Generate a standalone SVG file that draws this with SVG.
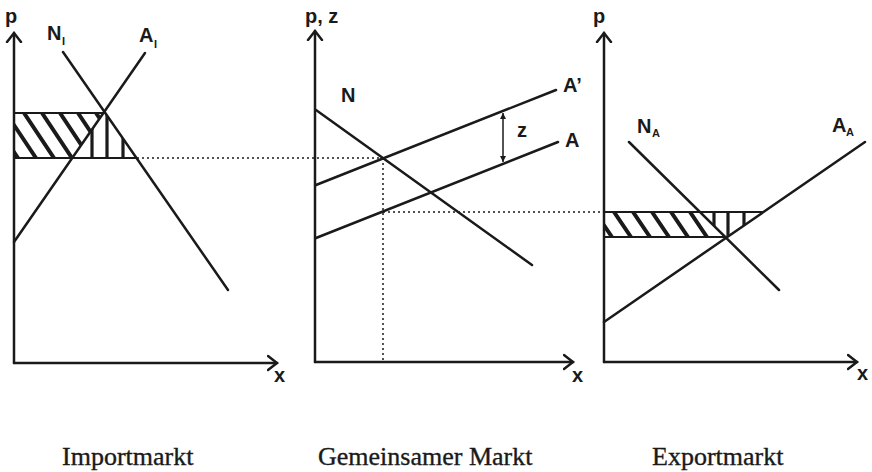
<svg xmlns="http://www.w3.org/2000/svg" width="872" height="472" viewBox="0 0 872 472">
<style>
.ax{stroke:#1a1a1a;stroke-width:2.5;fill:none;stroke-linecap:round}
.cv{stroke:#1a1a1a;stroke-width:2.5;fill:none;stroke-linecap:round}
.bd{stroke:#1a1a1a;stroke-width:1.8;fill:none}
.dot{stroke:#1a1a1a;stroke-width:1.5;fill:none;stroke-dasharray:2 3}
.hd{stroke:#1a1a1a;stroke-width:4;fill:none}
.hv{stroke:#1a1a1a;stroke-width:3.2;fill:none}
.lb{font-family:"Liberation Sans",Arial,sans-serif;font-size:20px;font-weight:bold;fill:#1a1a1a}
.sb{font-family:"Liberation Sans",Arial,sans-serif;font-size:11px;font-weight:bold;fill:#1a1a1a}
.tt{font-family:"Liberation Serif","Times New Roman",serif;font-size:26px;fill:#1a1a1a;stroke:#1a1a1a;stroke-width:0.35}
</style>
<defs>
<marker id="ah" markerUnits="userSpaceOnUse" markerWidth="20" markerHeight="20" refX="10" refY="10" orient="auto" viewBox="0 0 20 20">
<path d="M1,3 L10,10 L1,17" fill="none" stroke="#1a1a1a" stroke-width="2.5" stroke-linecap="round" stroke-linejoin="miter"/>
</marker>
<marker id="zh" markerUnits="userSpaceOnUse" markerWidth="8" markerHeight="8" refX="6" refY="4" orient="auto-start-reverse" viewBox="0 0 8 8">
<path d="M0,1 L6,4 L0,7 Z" fill="#1a1a1a"/>
</marker>
<clipPath id="cL1"><polygon points="14,113 103.4,113 72.2,158 14,158"/></clipPath>
<clipPath id="cL2"><polygon points="103.4,113 105.3,113 136.5,158 72.2,158"/></clipPath>
<clipPath id="cR1"><polygon points="604,212 700,212 725.3,237 604,237"/></clipPath>
<clipPath id="cR2"><polygon points="700,212 763.4,212 726,237"/></clipPath>
</defs>

<g id="import-market">
<g clip-path="url(#cL1)">
<path class="hd" d="M-12,113 L18,158 M6,113 L36,158 M24,113 L54,158 M42,113 L72,158 M60,113 L90,158 M78,113 L108,158 M96,113 L126,158"/>
</g>
<g clip-path="url(#cL2)">
<path class="hv" d="M92,110 V160 M107,110 V160 M123,110 V160"/>
</g>
<path class="bd" d="M14,113 H105 M14,158 H137"/>
<path class="cv" d="M63,52 L228,290"/>
<path class="cv" d="M14,242 L145,53"/>
<path class="ax" d="M14,363 V33" marker-end="url(#ah)"/>
<path class="ax" d="M14,363 H277" marker-end="url(#ah)"/>
<text class="lb" x="5" y="23">p</text>
<text class="lb" x="47" y="40">N</text><text class="sb" x="62" y="45">I</text>
<text class="lb" x="139" y="42">A</text><text class="sb" x="154" y="48">I</text>
<text class="lb" x="274" y="382">x</text>
<text class="tt" x="62" y="465">Importmarkt</text>
</g>

<g id="common-market">
<path class="cv" d="M316,110 L532,265"/>
<path class="cv" d="M316,185 L556,90"/>
<path class="cv" d="M316,238 L558,142"/>
<path class="ax" d="M315,362 V31" marker-end="url(#ah)"/>
<path class="ax" d="M315,362 H573" marker-end="url(#ah)"/>
<text class="lb" x="305" y="23">p, z</text>
<text class="lb" x="341" y="102">N</text>
<text class="lb" x="563" y="92">A’</text>
<text class="lb" x="565" y="147">A</text>
<text class="lb" x="517" y="137">z</text>
<text class="lb" x="572" y="382">x</text>
<text class="tt" x="318" y="465">Gemeinsamer Markt</text>
</g>

<g id="export-market">
<g clip-path="url(#cR1)">
<path class="hd" d="M595,212 L612,237 M614,212 L631,237 M633,212 L650,237 M652,212 L669,237 M671,212 L688,237 M690,212 L707,237 M709,212 L726,237"/>
</g>
<g clip-path="url(#cR2)">
<path class="hv" d="M714,210 V240 M728,210 V240 M744,210 V240"/>
</g>
<path class="bd" d="M604,212 H763 M604,237 H727"/>
<path class="cv" d="M629,142 L779,290"/>
<path class="cv" d="M604,322 L865,142"/>
<path class="ax" d="M604,362 V33" marker-end="url(#ah)"/>
<path class="ax" d="M604,362 H857" marker-end="url(#ah)"/>
<text class="lb" x="593" y="23">p</text>
<text class="lb" x="637" y="133">N</text><text class="sb" x="652" y="137">A</text>
<text class="lb" x="832" y="132">A</text><text class="sb" x="846" y="136">A</text>
<text class="lb" x="857" y="380">x</text>
<text class="tt" x="652" y="465">Exportmarkt</text>
</g>

<g id="connectors">
<path class="dot" d="M137,158 H383"/>
<path class="dot" d="M383,158 V362"/>
<path class="dot" d="M383,212 H604"/>
<path d="M503,113 V162" stroke="#1a1a1a" stroke-width="1.5" fill="none" marker-start="url(#zh)" marker-end="url(#zh)"/>
</g>
</svg>
